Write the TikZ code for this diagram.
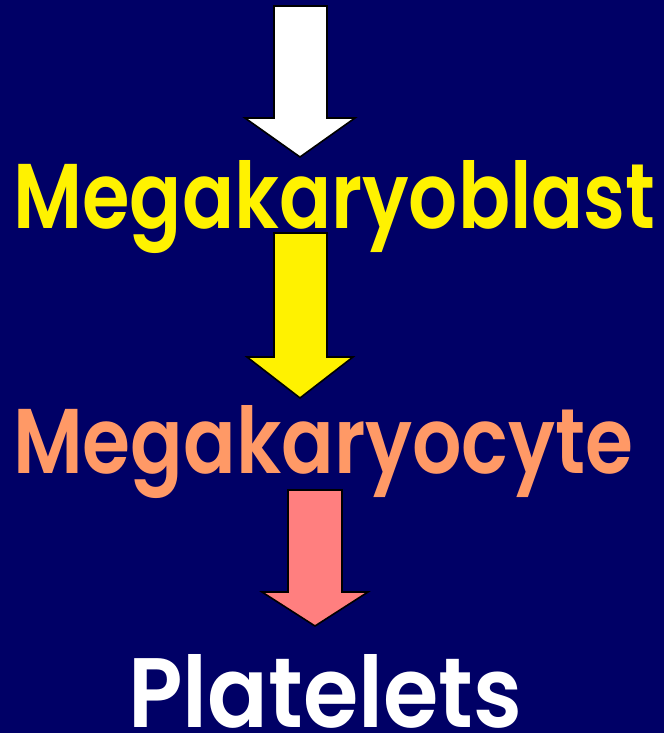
\documentclass[tikz,border=0pt]{standalone}
\usepackage{fontspec}
\usepackage{graphicx}
\newfontfamily\labelfont{Poppins SemiBold}
\definecolor{navybg}{HTML}{000066}
\definecolor{salmontext}{HTML}{FF9966}
\definecolor{pinkarrow}{HTML}{FF7F7F}
\begin{document}
\begin{tikzpicture}[x=1pt,y=-1pt,
  blockarrow/.style={draw=black,line width=1.6pt,line join=miter},
  lbl/.style={inner sep=0pt,anchor=base west,font=\labelfont}]
\fill[navybg] (0,0) rectangle (664,733);
\useasboundingbox (0,0) rectangle (664,733);
% white arrow
\draw[blockarrow,fill=white] (274,6) -- (327,6) -- (327,118) -- (355,118) -- (300,157) -- (245,118) -- (274,118) -- cycle;
\node[lbl,text=yellow] (blast) at (13,228) {\resizebox{642pt}{68pt}{Megakaryoblast}};
% yellow arrow
\draw[blockarrow,fill=yellow] (274,233) -- (327,233) -- (327,357) -- (353,357) -- (300,398) -- (247,357) -- (274,357) -- cycle;
\node[lbl,text=salmontext] (cyte) at (13,473) {\resizebox{620pt}{68pt}{Megakaryocyte}};
% pink arrow
\draw[blockarrow,fill=pinkarrow] (288,490) -- (342,490) -- (342,592) -- (368,592) -- (315,626) -- (262,592) -- (288,592) -- cycle;
\node[lbl,text=white] (plate) at (128,727) {\resizebox{394pt}{73pt}{Platelets}};
\end{tikzpicture}
\end{document}
